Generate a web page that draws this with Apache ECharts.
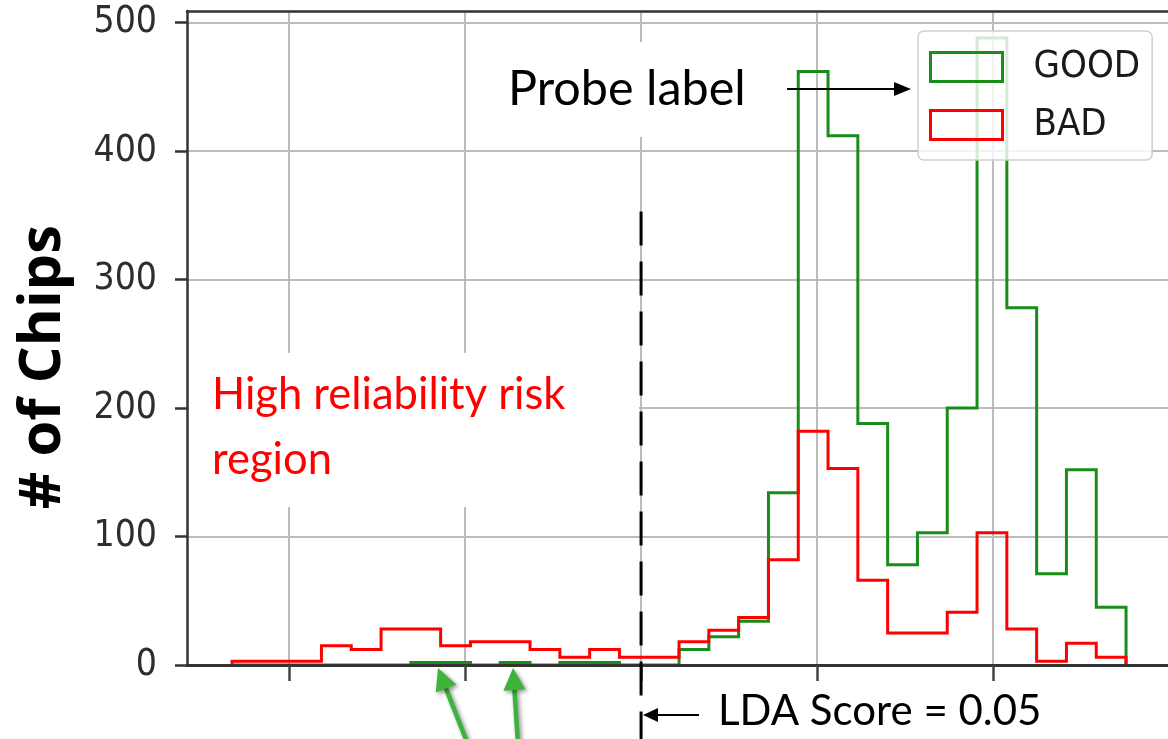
<!DOCTYPE html>
<html><head><meta charset="utf-8">
<script src="https://cdn.jsdelivr.net/npm/echarts@6/dist/echarts.min.js"></script>
<style>html,body{margin:0;padding:0;background:#fff}#c{width:1168px;height:739px}</style>
</head><body><div id="c"></div>
<script>
// ---- data ----
const binStart = -0.0662;
const binWidth = 0.008466;
const goodCounts = [0,0,0,0,0,0,2,2,0,2,0,2,2,0,0,12,22,34,134,462,412,188,78,103,200,488,278,71,152,45];
const badCounts  = [3,3,3,15,12,28,28,15,18,18,12,6,12,6,6,18,27,37,82,182,153,66,25,25,41,103,28,3,17,6];
const seriesNames = ['GOOD', 'BAD'];
const xTicks = [-0.05, 0, 0.05, 0.1, 0.15];
const yTicks = [0, 100, 200, 300, 400, 500];
const xRange = [-0.079, 0.1997];
const yRange = [0, 509];
const ldaThreshold = 0.05;
const dashTopCount = 353;

// ---- style ----
const GREEN = '#1a8c1a', RED = '#ff0000';
const NARROW = "'Liberation Sans Narrow','Arial Narrow','DejaVu Sans Condensed',sans-serif";
const CAL = "Lato,'Open Sans',sans-serif";

function stepPoints(counts) {
  const pts = [[binStart, 0]];
  counts.forEach((v, i) => {
    const a = binStart + i * binWidth, b = a + binWidth;
    pts.push([a, v], [b, v]);
  });
  pts.push([binStart + counts.length * binWidth, 0]);
  return pts;
}

const chart = echarts.init(document.getElementById('c'), null, {renderer: 'canvas'});
const gridLine = {show: true, lineStyle: {color: '#bcbcbc', width: 2}};
const option = {
  animation: false,
  backgroundColor: '#fff',
  grid: {left: 187, top: 11, right: 0, bottom: 74, containLabel: false, outerBoundsMode: 'none'},
  xAxis: [
    {type: 'value', min: xRange[0], max: xRange[1], axisLine: {show: false},
     axisTick: {show: false, customValues: xTicks}, axisLabel: {show: false}, splitLine: gridLine},
    {type: 'value', position: 'bottom', min: xRange[0], max: xRange[1], z: 10,
     axisLine: {show: true, onZero: false, lineStyle: {color: '#333', width: 3}},
     axisTick: {show: true, customValues: xTicks, length: 16, lineStyle: {color: '#444', width: 2.5}},
     axisLabel: {show: false}, splitLine: {show: false}},
    {type: 'value', position: 'top', min: xRange[0], max: xRange[1], z: 10,
     axisLine: {show: true, onZero: false, lineStyle: {color: '#333', width: 2.5}},
     axisTick: {show: false}, axisLabel: {show: false}, splitLine: {show: false}}
  ],
  yAxis: [
    {type: 'value', min: yRange[0], max: yRange[1],
     name: '# of Chips', nameLocation: 'middle', nameGap: 115,
     nameTextStyle: {fontFamily: "'Open Sans',sans-serif", fontWeight: 'bold', fontSize: 58, color: '#000', padding: [0, 58, 0, 0]},
     axisLine: {show: true, onZero: false, lineStyle: {color: '#333', width: 2.5}},
     axisTick: {show: true, customValues: yTicks, length: 12, lineStyle: {color: '#333', width: 2.5}},
     axisLabel: {show: true, customValues: yTicks, margin: 30, fontFamily: NARROW, fontSize: 37, color: '#2e2e2e'},
     splitLine: gridLine}
  ],
  legend: {
    left: 918, top: 31, orient: 'vertical', itemWidth: 72, itemHeight: 29, itemGap: 20,
    padding: [17, 12, 16, 11], backgroundColor: 'rgba(255,255,255,0.82)',
    borderColor: '#cfcfcf', borderWidth: 1.5, borderRadius: 6, selectedMode: false,
    textStyle: {fontFamily: NARROW, fontSize: 38, color: '#1a1a1a', padding: [0, 0, 0, 26]},
    data: [
      {name: seriesNames[0], icon: 'rect', itemStyle: {color: 'rgba(0,0,0,0)', borderColor: GREEN, borderWidth: 3}},
      {name: seriesNames[1], icon: 'rect', itemStyle: {color: 'rgba(0,0,0,0)', borderColor: RED, borderWidth: 3}}
    ]
  },
  series: [
    {name: seriesNames[0], type: 'line', xAxisIndex: 0, yAxisIndex: 0, data: stepPoints(goodCounts),
     symbol: 'none', showSymbol: false, z: 3, lineStyle: {color: GREEN, width: 3, join: 'miter'}, itemStyle: {color: GREEN}},
    {name: seriesNames[1], type: 'line', xAxisIndex: 0, yAxisIndex: 0, data: stepPoints(badCounts),
     symbol: 'none', showSymbol: false, z: 4, lineStyle: {color: RED, width: 3, join: 'miter'}, itemStyle: {color: RED}}
  ]
};
chart.setOption(option);

// ---- annotations ----
function arrow(x1, y1, x2, y2, color, width, headLen, headHalf, extra) {
  const dx = x2 - x1, dy = y2 - y1, L = Math.hypot(dx, dy);
  const ux = dx / L, uy = dy / L;
  const bx = x2 - ux * headLen, by = y2 - uy * headLen;
  const px = -uy * headHalf, py = ux * headHalf;
  const sh = extra || {};
  return [
    {type: 'line', z: 120, shape: {x1: x1, y1: y1, x2: bx + ux * 1, y2: by + uy * 1},
     style: Object.assign({stroke: color, lineWidth: width}, sh)},
    {type: 'polygon', z: 120, shape: {points: [[x2, y2], [bx + px, by + py], [bx - px, by - py]]},
     style: Object.assign({fill: color}, sh)}
  ];
}
const dashX = chart.convertToPixel({xAxisIndex: 0}, ldaThreshold);
const dashTop = chart.convertToPixel({yAxisIndex: 0}, dashTopCount);
const H = chart.getHeight();
const shadow = {shadowBlur: 4, shadowOffsetX: 2, shadowOffsetY: 2, shadowColor: 'rgba(0,0,0,0.45)'};
let g = [
  // white boxes behind the text annotations
  {type: 'rect', z: 100, shape: {x: 189, y: 353, width: 450, height: 154}, style: {fill: '#fff'}},
  {type: 'rect', z: 100, shape: {x: 480, y: 42, width: 285, height: 95}, style: {fill: '#fff'}},
  {type: 'text', z: 110, x: 212, y: 362, style: {text: 'High reliability risk\nregion', fill: RED,
    font: "43.5px " + CAL, lineHeight: 65, verticalAlign: 'top', align: 'left'}},
  {type: 'text', z: 110, x: 508, y: 89, style: {text: 'Probe label', fill: '#000',
    font: "48.5px " + CAL, verticalAlign: 'middle', align: 'left'}},
  {type: 'text', z: 110, x: 718, y: 711, style: {text: 'LDA Score = ' + ldaThreshold, fill: '#000',
    font: "42px " + CAL, verticalAlign: 'middle', align: 'left'}},
  {type: 'line', z: 115, shape: {x1: dashX, y1: dashTop, x2: dashX, y2: H},
   style: {stroke: '#000', lineWidth: 3, lineDash: [34, 16]}}
];
g = g.concat(arrow(787, 89, 911, 89, '#000', 2, 17, 7));
g = g.concat(arrow(699, 715, 643, 715, '#000', 2, 15, 7));
g = g.concat(arrow(474, 760, 438, 668, '#3cb43c', 4.5, 22, 11, shadow));
g = g.concat(arrow(519, 760, 513, 668, '#3cb43c', 4.5, 22, 11, shadow));
chart.setOption({graphic: {elements: g}});
</script></body></html>
